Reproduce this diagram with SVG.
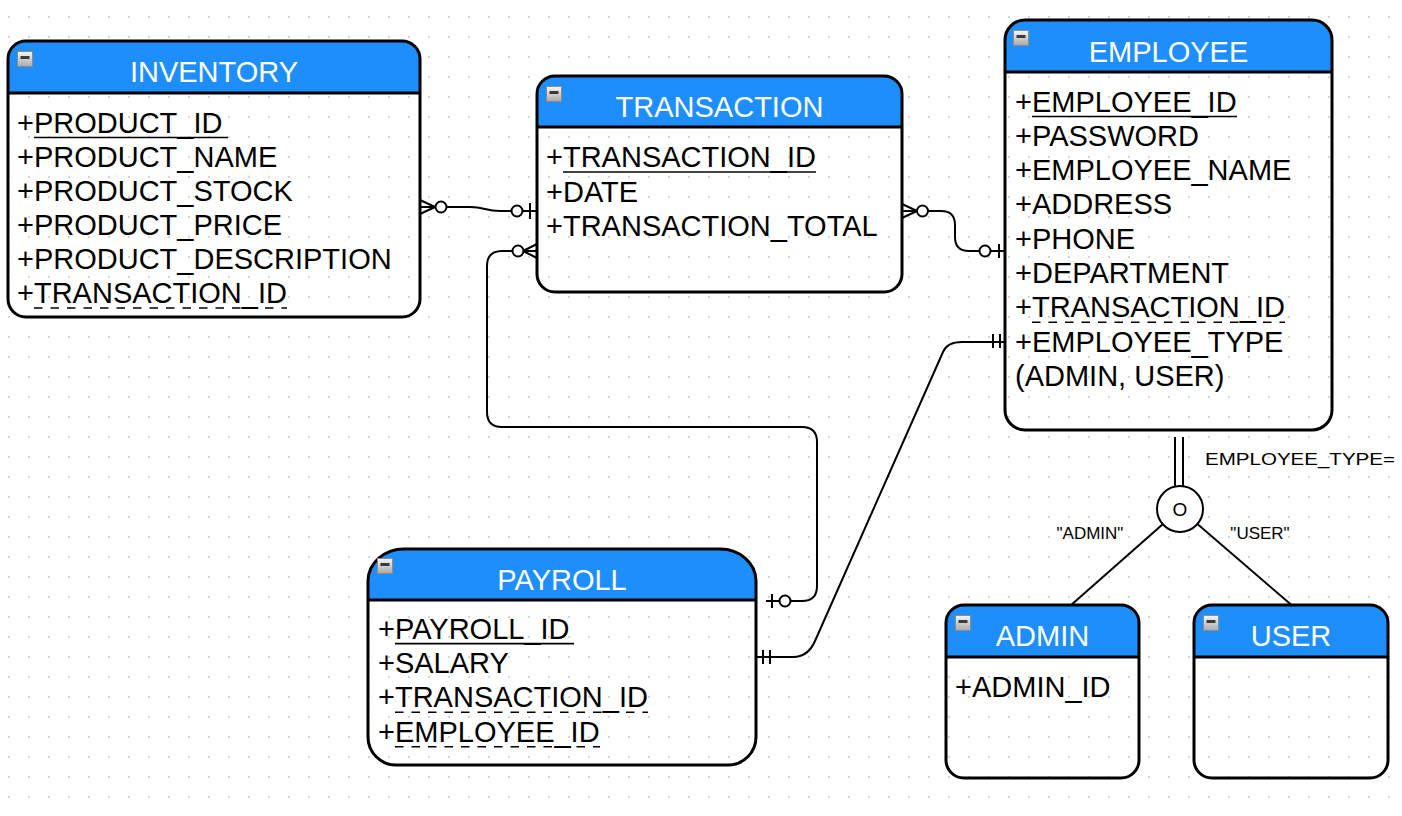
<svg xmlns="http://www.w3.org/2000/svg" xmlns:xlink="http://www.w3.org/1999/xlink" width="1402" height="816" viewBox="0 0 1402 816">
<style>
.hdr{fill:#1E8EFC;stroke:none}
.box{fill:none;stroke:#000;stroke-width:3}
.sep{stroke:#000;stroke-width:3}
.title{font-family:"Liberation Sans",Arial,Helvetica,sans-serif;font-size:29px;fill:#fff;text-anchor:middle}
.row{font-family:"Liberation Sans",Arial,Helvetica,sans-serif;font-size:29px;fill:#000}
.ul{stroke:#000;stroke-width:1.6}
.dul{stroke:#000;stroke-width:1.6;stroke-dasharray:8.5 8}
.conn{fill:none;stroke:#000;stroke-width:2}
.sym{fill:#fff;stroke:#000;stroke-width:2}
.lbl{font-family:"Liberation Sans",Arial,Helvetica,sans-serif;font-size:17px;fill:#000}
</style>
<defs>
<pattern id="dots" x="8" y="16" width="20" height="20" patternUnits="userSpaceOnUse"><rect width="2" height="2" fill="#d6d6d6"/></pattern>
<linearGradient id="ig" x1="0" y1="0" x2="0" y2="1"><stop offset="0" stop-color="#f6f6f6"/><stop offset="1" stop-color="#a9a9a9"/></linearGradient>
<g id="icon"><rect x="0.5" y="0.5" width="15" height="15" fill="url(#ig)" stroke="#8c8c8c"/><rect x="3.5" y="5" width="9" height="3" fill="#3a3a3a"/></g>
</defs>
<rect width="1402" height="816" fill="#fff"/>
<rect width="1402" height="816" fill="url(#dots)"/>

<g id="connectors">
<!-- INVENTORY - TRANSACTION -->
<path class="conn" d="M420,207 L470,207 C485,207 485,211 500,211 L537,211"/>
<path class="conn" d="M420,200 L435,207 M420,214 L435,207"/>
<circle class="sym" cx="441" cy="207" r="5.5"/>
<circle class="sym" cx="517" cy="211" r="5.5"/>
<line class="conn" x1="530" y1="203" x2="530" y2="219"/>
<!-- TRANSACTION - EMPLOYEE -->
<path class="conn" d="M902,211 L941,211 Q955,211 955,225 L955,237 Q955,251 969,251 L1005,251"/>
<path class="conn" d="M902,204 L917,211 M902,218 L917,211"/>
<circle class="sym" cx="922.5" cy="211" r="5.5"/>
<circle class="sym" cx="985" cy="251" r="5.5"/>
<line class="conn" x1="999" y1="244" x2="999" y2="258"/>
<!-- TRANSACTION - PAYROLL -->
<path class="conn" d="M537,251 L502,251 Q487,251 487,266 L487,412 Q487,427 502,427 L802,427 Q817,427 817,442 L817,586 Q817,601 802,601 L766,601"/>
<path class="conn" d="M537,244 L523,251 M537,258 L523,251"/>
<circle class="sym" cx="518" cy="251" r="5.5"/>
<circle class="sym" cx="785" cy="601" r="5.5"/>
<line class="conn" x1="772" y1="594" x2="772" y2="608"/>
<!-- PAYROLL - EMPLOYEE -->
<path class="conn" d="M756,657 L793,657 Q808,657 815,641 L943,352 Q947,342 962,342 L1005,342"/>
<line class="conn" x1="763" y1="650" x2="763" y2="664"/>
<line class="conn" x1="770" y1="650" x2="770" y2="664"/>
<line class="conn" x1="993" y1="334" x2="993" y2="348"/>
<line class="conn" x1="1000" y1="334" x2="1000" y2="348"/>
<!-- EMPLOYEE subtypes -->
<line class="conn" x1="1175" y1="437" x2="1175" y2="487"/>
<line class="conn" x1="1183" y1="437" x2="1183" y2="487"/>
<line class="conn" x1="1180" y1="509" x2="1070" y2="606"/>
<line class="conn" x1="1180" y1="509" x2="1295" y2="608"/>
<circle class="sym" cx="1180" cy="509" r="23"/>
<text class="lbl" x="1180" y="516" font-size="19" text-anchor="middle" style="font-size:19px">O</text>
<text class="lbl" x="1205" y="465" textLength="190" lengthAdjust="spacingAndGlyphs">EMPLOYEE_TYPE=</text>
<text class="lbl" x="1090" y="539" text-anchor="middle">"ADMIN"</text>
<text class="lbl" x="1260" y="539" text-anchor="middle">"USER"</text>
</g>

<g id="inventory">
<path class="hdr" d="M8,93 V59 A18,18 0 0 1 26,41 H402 A18,18 0 0 1 420,59 V93 Z"/>
<line class="sep" x1="8" y1="93" x2="420" y2="93"/>
<rect class="box" x="8" y="41" width="412" height="276" rx="18"/>
<use xlink:href="#icon" x="17" y="51"/>
<text class="title" x="214" y="82">INVENTORY</text>
<text class="row" x="17" y="132.5">+PRODUCT_ID</text>
<text class="row" x="17" y="166.6">+PRODUCT_NAME</text>
<text class="row" x="17" y="200.7">+PRODUCT_STOCK</text>
<text class="row" x="17" y="234.8">+PRODUCT_PRICE</text>
<text class="row" x="17" y="268.9">+PRODUCT_DESCRIPTION</text>
<text class="row" x="17" y="303">+TRANSACTION_ID</text>
<line class="ul" x1="34" y1="137.5" x2="228" y2="137.5"/>
<line class="dul" x1="34" y1="308" x2="287" y2="308"/>
</g>

<g id="transaction">
<path class="hdr" d="M537,127 V94 A18,18 0 0 1 555,76 H884 A18,18 0 0 1 902,94 V127 Z"/>
<line class="sep" x1="537" y1="127" x2="902" y2="127"/>
<rect class="box" x="537" y="76" width="365" height="216" rx="18"/>
<use xlink:href="#icon" x="546" y="86"/>
<text class="title" x="719.5" y="116.5">TRANSACTION</text>
<text class="row" x="546" y="167">+TRANSACTION_ID</text>
<text class="row" x="546" y="201.5">+DATE</text>
<text class="row" x="546" y="236">+TRANSACTION_TOTAL</text>
<line class="ul" x1="563" y1="172" x2="816" y2="172"/>
</g>

<g id="employee">
<path class="hdr" d="M1005,72 V40 A20,20 0 0 1 1025,20 H1312 A20,20 0 0 1 1332,40 V72 Z"/>
<line class="sep" x1="1005" y1="72" x2="1332" y2="72"/>
<rect class="box" x="1005" y="20" width="327" height="410" rx="20"/>
<use xlink:href="#icon" x="1013" y="30"/>
<text class="title" x="1168.5" y="61.5">EMPLOYEE</text>
<text class="row" x="1015" y="111.5">+EMPLOYEE_ID</text>
<text class="row" x="1015" y="145.8">+PASSWORD</text>
<text class="row" x="1015" y="180.1">+EMPLOYEE_NAME</text>
<text class="row" x="1015" y="214.4">+ADDRESS</text>
<text class="row" x="1015" y="248.7">+PHONE</text>
<text class="row" x="1015" y="283">+DEPARTMENT</text>
<text class="row" x="1015" y="317.3">+TRANSACTION_ID</text>
<text class="row" x="1015" y="351.6">+EMPLOYEE_TYPE</text>
<text class="row" x="1015" y="385.9">(ADMIN, USER)</text>
<line class="ul" x1="1032" y1="116.5" x2="1237" y2="116.5"/>
<line class="dul" x1="1032" y1="322.3" x2="1285" y2="322.3"/>
</g>

<g id="payroll">
<path class="hdr" d="M368,600 V581 A36,32 0 0 1 404,549 H720 A36,32 0 0 1 756,581 V600 Z"/>
<line class="sep" x1="368" y1="600" x2="756" y2="600"/>
<path class="box" d="M368,581 A36,32 0 0 1 404,549 H720 A36,32 0 0 1 756,581 V737 A28,28 0 0 1 728,765 H396 A28,28 0 0 1 368,737 Z"/>
<use xlink:href="#icon" x="377" y="558"/>
<text class="title" x="562" y="589.5">PAYROLL</text>
<text class="row" x="378" y="638.6">+PAYROLL_ID</text>
<text class="row" x="378" y="673">+SALARY</text>
<text class="row" x="378" y="707.3">+TRANSACTION_ID</text>
<text class="row" x="378" y="741.7">+EMPLOYEE_ID</text>
<line class="ul" x1="395" y1="643.6" x2="574" y2="643.6"/>
<line class="dul" x1="395" y1="712.3" x2="648" y2="712.3"/>
<line class="dul" x1="395" y1="746.7" x2="600" y2="746.7"/>
</g>

<g id="admin">
<path class="hdr" d="M946,657 V623 A18,18 0 0 1 964,605 H1121 A18,18 0 0 1 1139,623 V657 Z"/>
<line class="sep" x1="946" y1="657" x2="1139" y2="657"/>
<rect class="box" x="946" y="605" width="193" height="173" rx="18"/>
<use xlink:href="#icon" x="955" y="615"/>
<text class="title" x="1042.5" y="645.5">ADMIN</text>
<text class="row" x="955" y="697">+ADMIN_ID</text>
</g>

<g id="user">
<path class="hdr" d="M1194,657 V623 A18,18 0 0 1 1212,605 H1370 A18,18 0 0 1 1388,623 V657 Z"/>
<line class="sep" x1="1194" y1="657" x2="1388" y2="657"/>
<rect class="box" x="1194" y="605" width="194" height="173" rx="18"/>
<use xlink:href="#icon" x="1203" y="615"/>
<text class="title" x="1291" y="645.5">USER</text>
</g>
</svg>
